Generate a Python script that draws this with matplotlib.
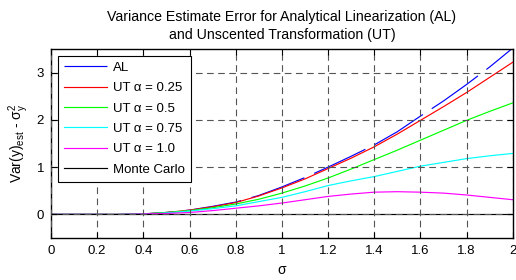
import matplotlib
matplotlib.use('Agg')
import matplotlib.pyplot as plt
import numpy as np

plt.rcParams['font.family'] = ['Liberation Sans', 'DejaVu Sans']
plt.rcParams['mathtext.fontset'] = 'custom'
plt.rcParams['mathtext.rm'] = 'Liberation Sans'
plt.rcParams['mathtext.it'] = 'Liberation Sans'

sigma = [0.0, 0.1, 0.2, 0.3, 0.4, 0.5, 0.6, 0.7, 0.8, 0.9, 1.0,
         1.1, 1.2, 1.3, 1.4, 1.5, 1.6, 1.7, 1.8, 1.9, 2.0]
al = [0, 0, 0, 0, 0.01, 0.04, 0.09, 0.17, 0.26, 0.40, 0.58,
      0.78, 1.00, 1.23, 1.47, 1.75, 2.08, 2.40, 2.75, 3.12, 3.52]
ut025 = [0, 0, 0, 0, 0.01, 0.04, 0.09, 0.16, 0.25, 0.39, 0.56,
         0.75, 0.97, 1.19, 1.43, 1.70, 1.99, 2.28, 2.58, 2.90, 3.22]
ut05 = [0, 0, 0, 0, 0.01, 0.04, 0.08, 0.14, 0.22, 0.32, 0.45,
        0.60, 0.77, 0.96, 1.16, 1.36, 1.57, 1.78, 1.99, 2.18, 2.36]
ut075 = [0, 0, 0, 0, 0.01, 0.03, 0.07, 0.12, 0.18, 0.27, 0.36,
         0.48, 0.61, 0.71, 0.80, 0.91, 1.02, 1.10, 1.18, 1.24, 1.29]
ut10 = [0, 0, 0, 0, 0.01, 0.02, 0.04, 0.08, 0.13, 0.18, 0.24,
        0.31, 0.38, 0.43, 0.47, 0.48, 0.47, 0.45, 0.41, 0.36, 0.31]
mc = [0.0] * len(sigma)

fig = plt.figure(figsize=(5.16, 2.8), dpi=100)
ax = fig.add_axes([0.0988, 0.15, 0.895, 0.675])

ax.plot(sigma, al, color='#0000ff', lw=0.85, linestyle=(0, (48, 9)), label='AL')
ax.plot(sigma, ut025, color='#ff0000', lw=0.85, label='UT α = 0.25')
ax.plot(sigma, ut05, color='#00ff00', lw=0.85, label='UT α = 0.5')
ax.plot(sigma, ut075, color='#00ffff', lw=0.85, label='UT α = 0.75')
ax.plot(sigma, ut10, color='#ff00ff', lw=0.85, label='UT α = 1.0')
ax.plot(sigma, mc, color='black', lw=0.85, label='Monte Carlo')

ax.set_xlim(0, 2)
ax.set_ylim(-0.5, 3.5)
ax.set_xticks(np.arange(0, 2.01, 0.2))
ax.set_xticklabels(['0', '0.2', '0.4', '0.6', '0.8', '1', '1.2', '1.4', '1.6', '1.8', '2'])
ax.set_yticks([0, 1, 2, 3])
ax.tick_params(direction='in', top=True, right=True, length=4, labelsize=9.5, pad=5)
ax.set_axisbelow(False)
ax.grid(True, color='#555555', linestyle=(0, (6, 4)), lw=0.8)
for s in ax.spines.values():
    s.set_linewidth(1.0)

ax.set_title('Variance Estimate Error for Analytical Linearization (AL)\nand Unscented Transformation (UT)',
             fontsize=10.2, pad=7, linespacing=1.35)
ax.set_xlabel('σ', fontsize=10, labelpad=4)
ax.set_ylabel(r'Var(y)$_{est}$ - $\sigma_y^2$', fontsize=10, labelpad=4)

leg = ax.legend(loc='upper left', fontsize=9.5, frameon=True, fancybox=False,
                edgecolor='black', framealpha=1, handlelength=3.3,
                labelspacing=0.62, borderaxespad=0.5, handletextpad=0.45,
                borderpad=0.45)
leg.get_frame().set_linewidth(0.8)
leg.set_zorder(5)

fig.savefig('out.png', dpi=100)
